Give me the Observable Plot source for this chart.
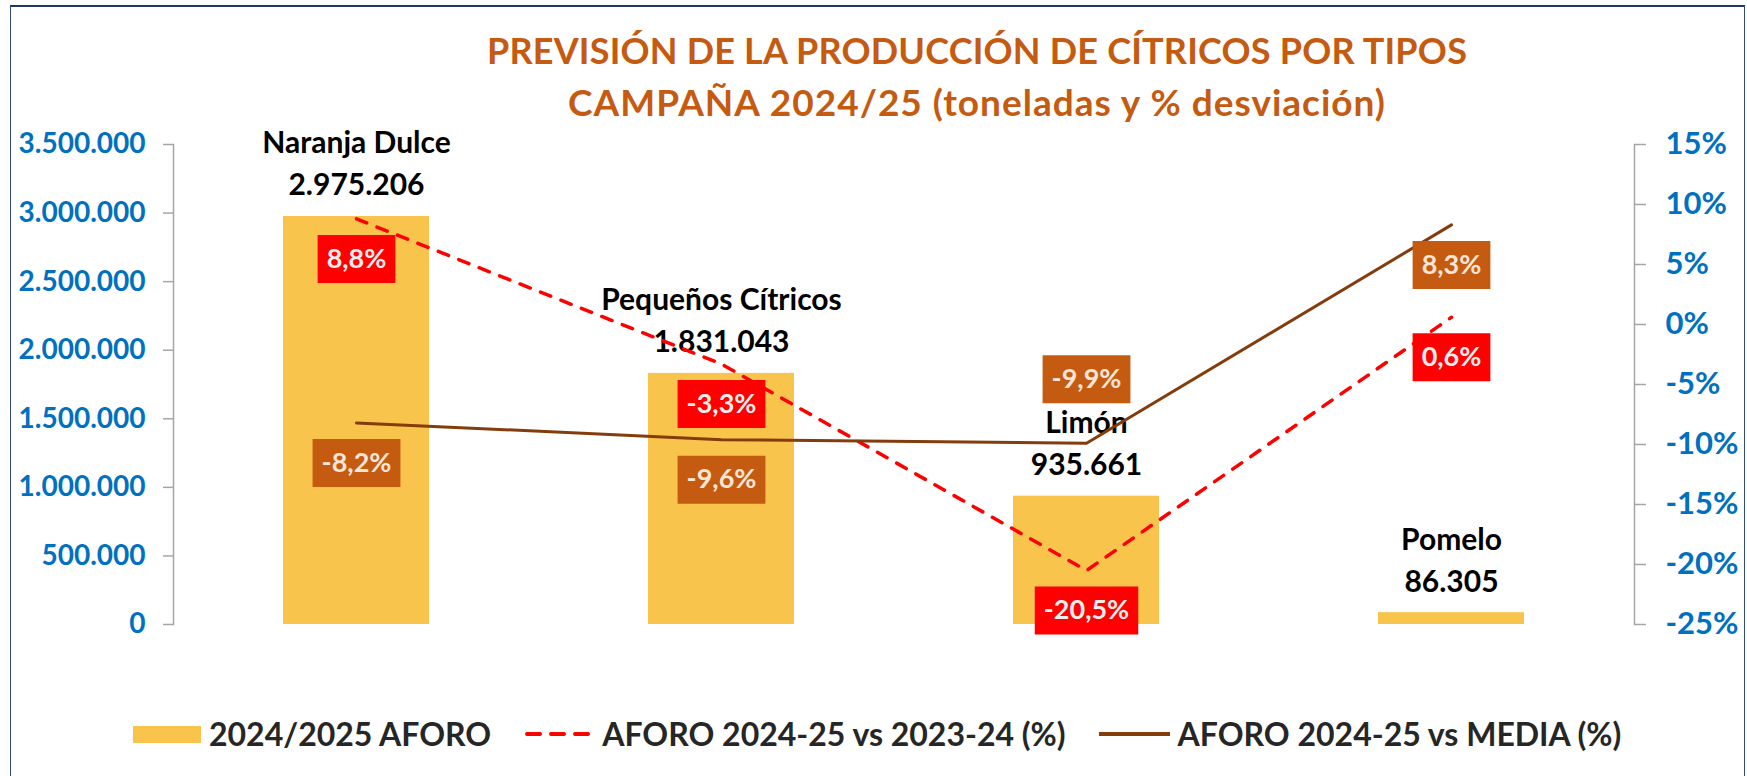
<!DOCTYPE html>
<html><head><meta charset="utf-8">
<script src="https://cdn.jsdelivr.net/npm/d3@7"></script>
<script src="https://cdn.jsdelivr.net/npm/@observablehq/plot@0.6"></script>
<style>
html,body{margin:0;padding:0;background:#fff;}
#wrap{position:relative;width:1747px;height:776px;overflow:hidden;font-family:Lato,"Open Sans",sans-serif;}
#frame{position:absolute;left:10px;top:5px;width:1735px;height:820px;border:1.5px solid #2F4B8C;border-top:2.5px solid #1F3763;box-sizing:border-box;}
#title{position:absolute;left:977px;top:24px;transform:translateX(-50%);text-align:center;white-space:nowrap;color:#C55A11;font-weight:700;line-height:52px;}
#title .l1{font-size:36px;letter-spacing:0.2px;}
#title .l2{font-size:37px;letter-spacing:1px;}
#chart{position:absolute;left:0;top:0;}
#legend{position:absolute;left:133px;top:718px;height:32px;display:flex;align-items:center;font-weight:700;font-size:32px;color:#262626;line-height:32px;white-space:nowrap;}
#legend svg{display:block;}
g[aria-label="category-label"] text{letter-spacing:1px;}
g[aria-label="left-tick-label"] text{letter-spacing:0.5px;}
g[aria-label="right-tick-label"] text{letter-spacing:0.5px;}
</style></head>
<body><div id="wrap"><div id="frame"></div><div id="title"></div><div id="chart"></div><div id="legend"></div></div>
<script>
// ---- data ----
const categories = ["Naranja Dulce", "Pequeños Cítricos", "Limón", "Pomelo"];
const aforo = [2975206, 1831043, 935661, 86305];
const vs2324 = [8.8, -3.3, -20.5, 0.6];
const vsMedia = [-8.2, -9.6, -9.9, 8.3];
const leftTicks = [0, 500000, 1000000, 1500000, 2000000, 2500000, 3000000, 3500000];
const rightTicks = [-25, -20, -15, -10, -5, 0, 5, 10, 15];
const titleLines = ["PREVISIÓN DE LA PRODUCCIÓN DE CÍTRICOS POR TIPOS", "CAMPAÑA 2024/25 (toneladas y % desviación)"];
const legendLabels = ["2024/2025 AFORO", "AFORO 2024-25 vs 2023-24 (%)", "AFORO 2024-25 vs MEDIA (%)"];

// ---- colours ----
const BAR = "#F9C44C", RED = "#FF0000", BROWN_BOX = "#C55A11", BROWN_LINE = "#843C0C", AXIS_TXT = "#0070C0", AXIS_LINE = "#A6A6A6";

const loc = d3.formatLocale({decimal: ",", thousands: ".", grouping: [3], currency: ["", "€"], minus: "-"});
const fmtInt = loc.format(",d");
const fmtPct = loc.format(".1f");
const Y_MAX = leftTicks[leftTicks.length - 1];
const P_MIN = rightTicks[0], P_MAX = rightTicks[rightTicks.length - 1];
const toY = p => (p - P_MIN) / (P_MAX - P_MIN) * Y_MAX;
const fromY = y => y / Y_MAX * (P_MAX - P_MIN) + P_MIN;

const bars = categories.map((c, i) => ({cat: c, v: aforo[i], label: c + "\n" + fmtInt(aforo[i])}));
const s1 = categories.map((c, i) => ({cat: c, p: vs2324[i], t: fmtPct(vs2324[i]) + "%"}));
const s2 = categories.map((c, i) => ({cat: c, p: vsMedia[i], t: fmtPct(vsMedia[i]) + "%"}));

const LBL_FONT = 27;
const ctx = document.createElement("canvas").getContext("2d");
ctx.font = `bold ${LBL_FONT}px Lato`;
const half = d => (ctx.measureText(d.t).width + 18) / 2;
const BOX_H = 48;
const boxSymbol = {draw(c, size) {
  const r = Math.sqrt(size / Math.PI);
  c.moveTo(-r, -BOX_H / 2); c.lineTo(r, -BOX_H / 2); c.lineTo(r, BOX_H / 2); c.lineTo(-r, BOX_H / 2); c.closePath();
}};
const py = d => toY(d.p);
const boxMarks = (data, opts, fill, txt, filter) => [
  Plot.dot(data, {x: "cat", y: py, r: half, symbol: boxSymbol, fill, stroke: null, filter, ...opts}),
  Plot.text(data, {x: "cat", y: py, text: "t", fontSize: LBL_FONT, fontWeight: "bold", fill: txt, filter, ...opts})
];

const plot = Plot.plot({
  width: 1747, height: 700,
  marginLeft: 173, marginRight: 113, marginTop: 144, marginBottom: 76,
  style: {fontFamily: "Lato, sans-serif", background: "transparent", overflow: "visible"},
  x: {domain: categories, paddingInner: 0.6, paddingOuter: 0.3, axis: null},
  y: {domain: [0, Y_MAX], axis: null},
  r: {type: "identity"},
  marks: [
    Plot.frame({anchor: "left", stroke: AXIS_LINE, strokeWidth: 1.5}),
    Plot.frame({anchor: "right", stroke: AXIS_LINE, strokeWidth: 1.5}),
    Plot.axisY({anchor: "left", ticks: leftTicks, tickSize: 10, tickFormat: () => "", color: AXIS_LINE, strokeWidth: 1.5, label: null}),
    Plot.axisY({anchor: "left", ticks: leftTicks, tickSize: 0, tickPadding: 28, tickFormat: fmtInt, color: AXIS_TXT, fontSize: 28, fontWeight: "bold", label: null, ariaLabel: "left-tick-label"}),
    Plot.axisY({anchor: "right", ticks: rightTicks.map(toY), tickSize: 11, tickFormat: () => "", color: AXIS_LINE, strokeWidth: 1.5, label: null}),
    Plot.axisY({anchor: "right", ticks: rightTicks.map(toY), tickSize: 0, tickPadding: 31, tickFormat: v => Math.round(fromY(v)) + "%", color: AXIS_TXT, fontSize: 31, fontWeight: "bold", label: null, ariaLabel: "right-tick-label"}),
    Plot.barY(bars, {x: "cat", y: "v", fill: BAR}),
    Plot.text(bars, {x: "cat", y: "v", text: "label", dy: -21, lineAnchor: "bottom", lineHeight: 1.4, fontSize: 30, fontWeight: "bold", fill: "#000", ariaLabel: "category-label"}),
    Plot.line(s1, {x: "cat", y: py, stroke: RED, strokeWidth: 3.5, strokeDasharray: "11,11", strokeLinecap: "round"}),
    Plot.line(s2, {x: "cat", y: py, stroke: BROWN_LINE, strokeWidth: 3}),
    ...boxMarks(s1, {dy: 40}, RED, "#EDEDED"),
    ...boxMarks(s2, {dy: 40}, BROWN_BOX, "#FBE5D6", d => d.cat !== "Limón"),
    ...boxMarks(s2, {dy: -64}, BROWN_BOX, "#FBE5D6", d => d.cat === "Limón")
  ]
});
document.getElementById("chart").appendChild(plot);

// title
const title = document.getElementById("title");
titleLines.forEach((t, i) => { const d = document.createElement("div"); d.className = "l" + (i + 1); d.textContent = t; title.appendChild(d); });

// legend
const legend = document.getElementById("legend");
const ns = "http://www.w3.org/2000/svg";
function swatch(w, h, draw, ml, mr) {
  const s = document.createElementNS(ns, "svg");
  s.setAttribute("width", w); s.setAttribute("height", h);
  s.style.marginLeft = ml + "px"; s.style.marginRight = mr + "px";
  s.innerHTML = draw;
  return s;
}
function label(t) { const sp = document.createElement("span"); sp.textContent = t; return sp; }
legend.appendChild(swatch(68, 17, `<rect width="68" height="17" fill="${BAR}"/>`, 0, 8));
legend.appendChild(label(legendLabels[0]));
legend.appendChild(swatch(71, 10, `<line x1="2" y1="5" x2="69" y2="5" stroke="${RED}" stroke-width="4" stroke-dasharray="13,11" stroke-linecap="round"/>`, 34, 6));
legend.appendChild(label(legendLabels[1]));
legend.appendChild(swatch(71, 10, `<line x1="0" y1="5" x2="71" y2="5" stroke="${BROWN_LINE}" stroke-width="4" stroke-linecap="round"/>`, 33, 8));
legend.appendChild(label(legendLabels[2]));
</script>
</body></html>
